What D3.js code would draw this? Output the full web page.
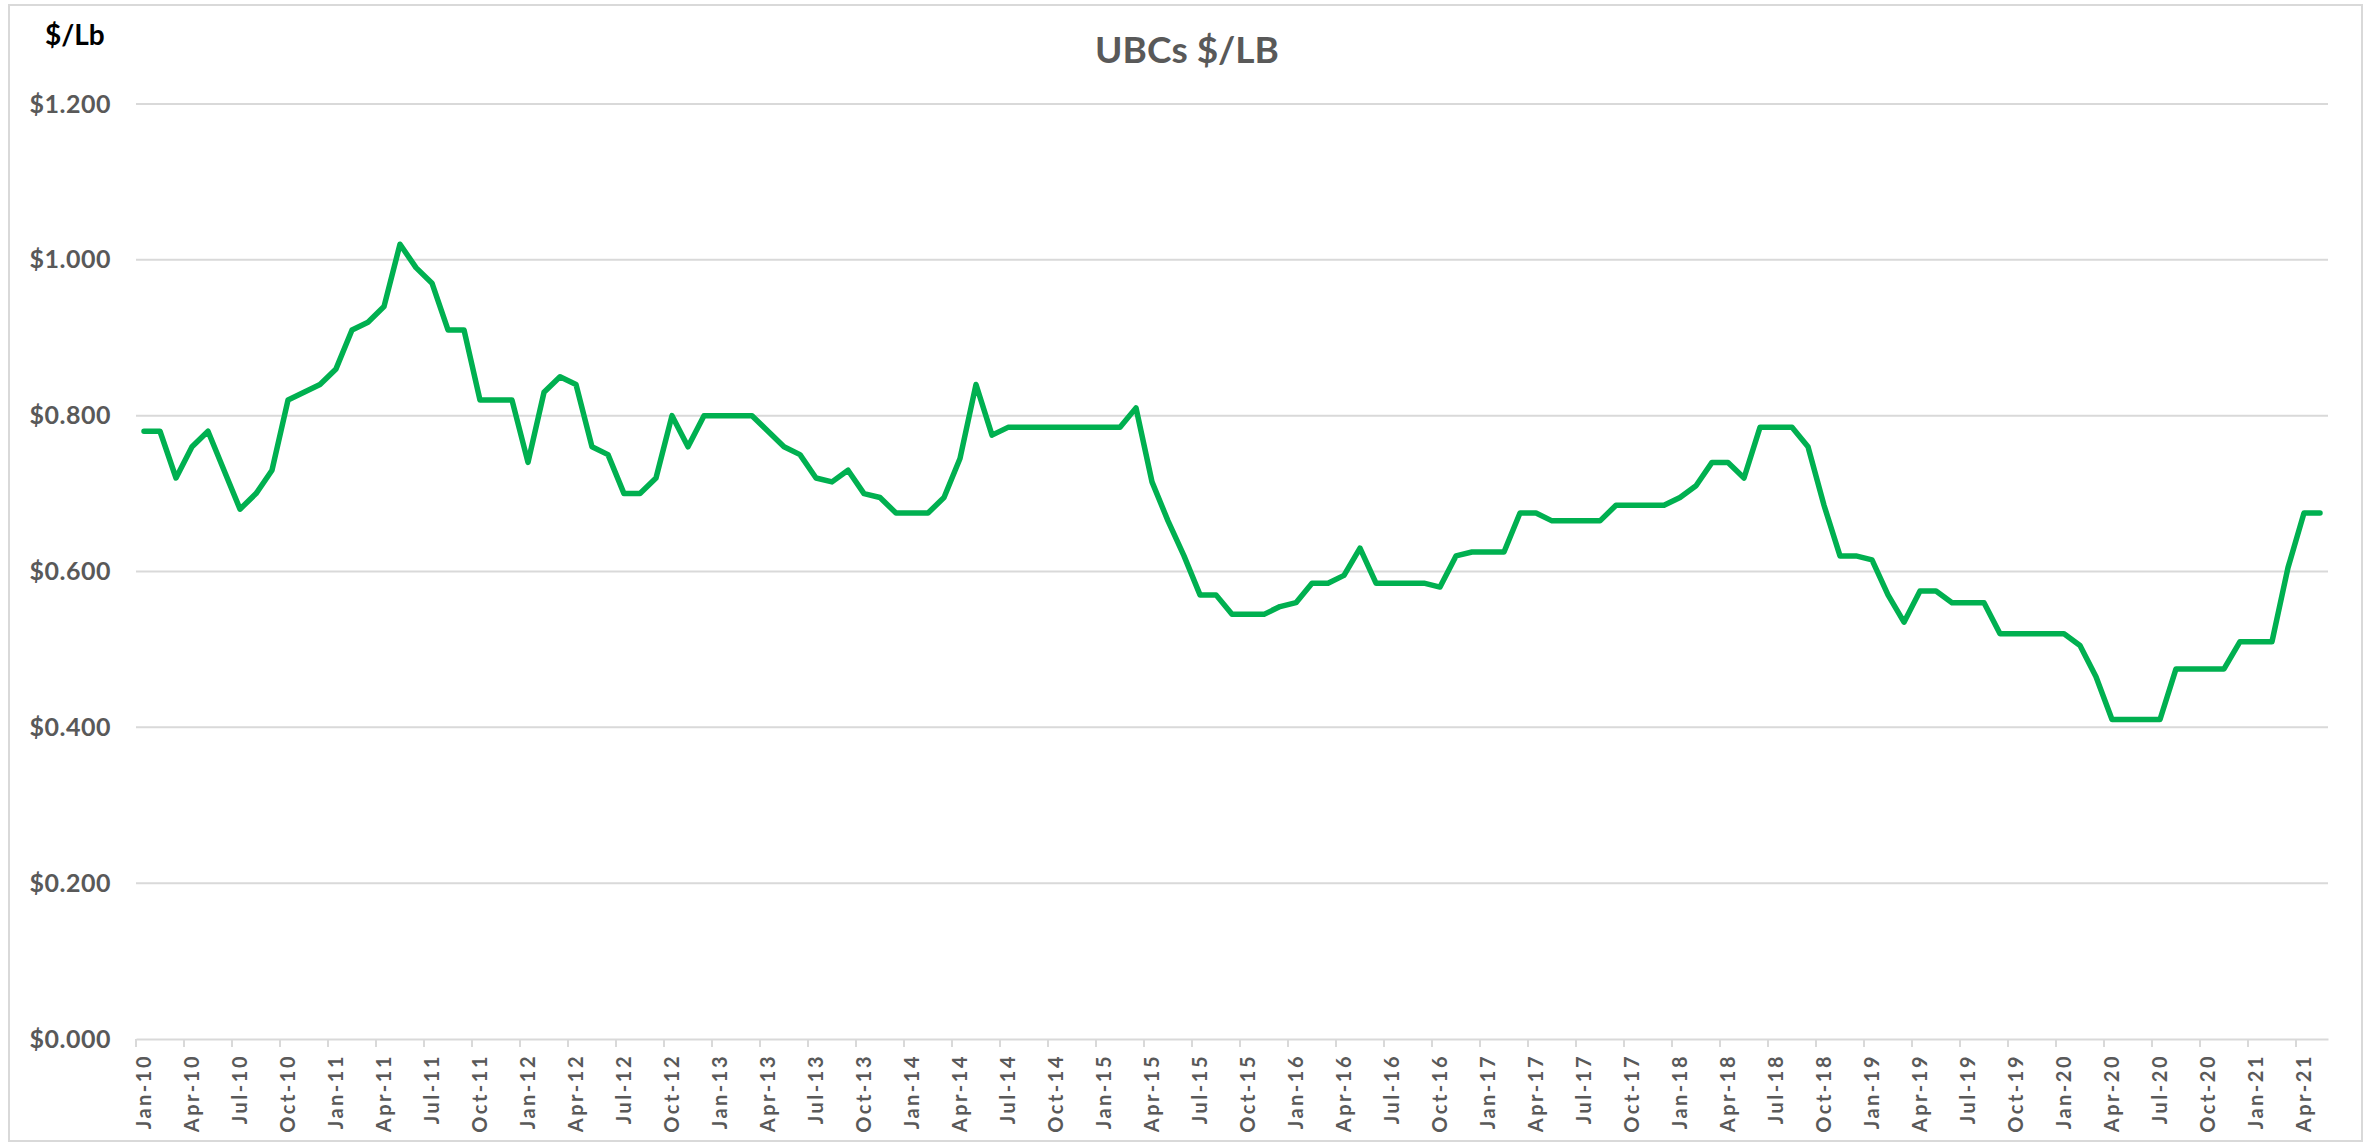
<!DOCTYPE html>
<html>
<head>
<meta charset="utf-8">
<script src="https://cdn.jsdelivr.net/npm/d3@7"></script>
<style>
    body { margin: 0; background: #fff; }
    text { font-family: Lato, "Open Sans", sans-serif; font-weight: bold; }
</style>
</head>
<body>
<div id="lineChart"></div>
<script>

// data: monthly UBC price, Jan-10 .. May-21
var firstMonth = new Date(2010, 0, 1),
    endMonth = new Date(2021, 5, 1);

var months = d3.timeMonth.range(firstMonth, endMonth);

var prices = [
    0.780, 0.780, 0.720, 0.760, 0.780, 0.730, 0.680, 0.700, 0.730, 0.820, 0.830, 0.840,
    0.860, 0.910, 0.920, 0.940, 1.020, 0.990, 0.970, 0.910, 0.910, 0.820, 0.820, 0.820,
    0.740, 0.830, 0.850, 0.840, 0.760, 0.750, 0.700, 0.700, 0.720, 0.800, 0.760, 0.800,
    0.800, 0.800, 0.800, 0.780, 0.760, 0.750, 0.720, 0.715, 0.730, 0.700, 0.695, 0.675,
    0.675, 0.675, 0.695, 0.745, 0.840, 0.775, 0.785, 0.785, 0.785, 0.785, 0.785, 0.785,
    0.785, 0.785, 0.810, 0.715, 0.665, 0.620, 0.570, 0.570, 0.545, 0.545, 0.545, 0.555,
    0.560, 0.585, 0.585, 0.595, 0.630, 0.585, 0.585, 0.585, 0.585, 0.580, 0.620, 0.625,
    0.625, 0.625, 0.675, 0.675, 0.665, 0.665, 0.665, 0.665, 0.685, 0.685, 0.685, 0.685,
    0.695, 0.710, 0.740, 0.740, 0.720, 0.785, 0.785, 0.785, 0.760, 0.685, 0.620, 0.620,
    0.615, 0.570, 0.535, 0.575, 0.575, 0.560, 0.560, 0.560, 0.520, 0.520, 0.520, 0.520,
    0.520, 0.505, 0.465, 0.410, 0.410, 0.410, 0.410, 0.475, 0.475, 0.475, 0.475, 0.510,
    0.510, 0.510, 0.605, 0.675, 0.675
];

var yTicks = [0, 0.2, 0.4, 0.6, 0.8, 1.0, 1.2];

var title = "UBCs $/LB",
    unitLabel = "$/Lb";

let data = [];
for (let i = 0; i < months.length; i++) {
    data[i] = {month: months[i], price: prices[i]};
}

// label every 3rd month
var labelMonths = months.filter((d, i) => i % 3 === 0);

// Set dimensions and margins of the graph
var width = 2371,
    height = 1145,
    margin = {top: 104, right: 43, bottom: 106, left: 136};

var svg = d3.select("#lineChart")
    .append("svg")
    .attr("width", width)
    .attr("height", height)
    .attr("viewBox", [0, 0, width, height]);

// chart border
svg.append("rect")
    .attr("x", 9)
    .attr("y", 5)
    .attr("width", width - 18)
    .attr("height", height - 9)
    .attr("fill", "#fff")
    .attr("stroke", "#d9d9d9")
    .attr("stroke-width", 2);

// Set X
const x = d3.scaleBand()
    .domain(months)
    .range([margin.left, width - margin.right])
    .padding(0);

// Set Y
const y = d3.scaleLinear()
    .domain([0, 1.2])
    .range([height - margin.bottom, margin.top]);

// grid lines
svg.append("g")
    .selectAll("line")
    .data(yTicks.filter(d => d > 0))
    .join("line")
    .attr("x1", margin.left)
    .attr("x2", width - margin.right)
    .attr("y1", d => y(d))
    .attr("y2", d => y(d))
    .attr("stroke", "#d9d9d9")
    .attr("stroke-width", 2);

// y axis
function yAxis(g) {
    g.attr("transform", `translate(${margin.left}, 0)`)
        .call(d3.axisLeft(y).tickValues(yTicks).tickFormat(d3.format("$.3f")).tickSize(0).tickPadding(25))
        .call(g => g.select(".domain").remove())
        .attr("font-size", "25px")
        .attr("font-family", null);
    g.selectAll("text").attr("fill", "#595959").attr("letter-spacing", "0.5px");
}

// x axis - labels centred on the month, tick marks on the band edges
function xAxis(g) {
    g.attr("transform", `translate(0,${height - margin.bottom})`)
        .call(d3.axisBottom(x).tickValues(labelMonths).tickFormat(d3.timeFormat("%b-%y")).tickSize(0).tickSizeOuter(0))
        .attr("font-size", "20px")
        .attr("font-family", null);
    g.select(".domain").attr("stroke", "#d9d9d9").attr("stroke-width", 2);
    g.selectAll(".tick text")
        .attr("fill", "#595959")
        .attr("letter-spacing", "2.5px")
        .attr("text-anchor", "end")
        .attr("transform", "rotate(-90)")
        .attr("x", -15)
        .attr("y", 0)
        .attr("dy", "0.36em");
    g.append("g")
        .selectAll("line")
        .data(labelMonths)
        .join("line")
        .attr("x1", d => x(d))
        .attr("x2", d => x(d))
        .attr("y1", 0)
        .attr("y2", 8)
        .attr("stroke", "#d9d9d9")
        .attr("stroke-width", 2);
}

svg.append("g").call(yAxis);
svg.append("g").call(xAxis);

// the price line
var line = d3.line()
    .x(d => x(d.month) + x.bandwidth() / 2)
    .y(d => y(d.price));

svg.append("path")
    .datum(data)
    .attr("d", line)
    .attr("fill", "none")
    .attr("stroke", "#00b050")
    .attr("stroke-width", 5.5)
    .attr("stroke-linejoin", "round")
    .attr("stroke-linecap", "round");

// add title
svg.append("text")
    .attr("x", 1187)
    .attr("y", 63)
    .attr("text-anchor", "middle")
    .attr("font-size", "37px")
    .attr("fill", "#595959")
    .text(title);

// unit label top left
svg.append("text")
    .attr("x", 45)
    .attr("y", 45)
    .attr("font-size", "28px")
    .attr("fill", "#000")
    .text(unitLabel);

</script>
</body>
</html>
